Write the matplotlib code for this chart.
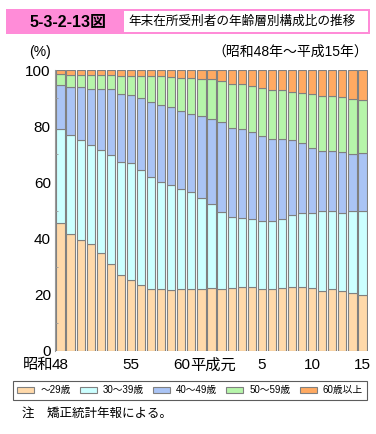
import matplotlib
matplotlib.use('Agg')
import matplotlib.pyplot as plt
import numpy as np
from matplotlib.patches import Rectangle, Patch

plt.rcParams['font.family'] = ['Liberation Sans', 'Noto Sans CJK JP', 'DejaVu Sans']

# 昭和48年～平成15年 (31 years), shares in %
years = list(range(31))
age_labels = ['～29歳', '30～39歳', '40～49歳', '50～59歳', '60歳以上']
under29 = [45.4, 41.8, 39.5, 38.1, 34.8, 31.1, 26.9, 25.4, 23.4, 22.2, 21.9,
           21.7, 22.1, 21.9, 22.1, 22.5, 22.1, 22.3, 22.8, 22.8, 22.2, 22.1,
           22.3, 22.7, 22.7, 22.3, 21.3, 22.1, 21.4, 20.5, 19.8]
age30s = [33.5, 35.2, 35.5, 35.3, 36.6, 38.7, 40.4, 41.4, 40.9, 39.7, 38.2,
          37.2, 35.5, 34.6, 32.4, 29.9, 27.2, 25.3, 24.7, 24.3, 24.2, 24.3,
          24.8, 25.8, 26.5, 26.7, 28.6, 27.9, 27.8, 29.2, 29.9]
age40s = [15.6, 17.1, 18.9, 20.0, 21.8, 23.3, 24.1, 24.4, 25.6, 26.8, 27.6,
          27.9, 27.9, 28.0, 29.0, 30.3, 32.2, 31.9, 31.6, 30.9, 30.2, 29.0,
          28.3, 26.6, 24.9, 23.2, 21.2, 21.3, 21.5, 20.4, 20.8]
age50s = [4.0, 4.1, 4.4, 4.9, 5.1, 5.1, 6.6, 6.8, 7.9, 9.1, 10.1,
          10.7, 11.8, 12.5, 13.3, 14.0, 14.6, 15.6, 15.8, 16.2, 16.9, 17.5,
          17.4, 17.2, 17.6, 19.2, 19.8, 19.3, 19.6, 19.7, 18.7]
over60 = [1.5, 1.8, 1.7, 1.7, 1.7, 1.8, 2.0, 2.0, 2.2, 2.2, 2.2,
          2.5, 2.7, 3.0, 3.2, 3.3, 3.9, 4.9, 5.1, 5.8, 6.5, 7.1,
          7.2, 7.7, 8.3, 8.6, 9.1, 9.4, 9.7, 10.2, 10.8]
tick_pos = [0, 7, 12, 20, 25, 30]
tick_num = ['48', '55', '60', '5', '10', '15']

colors = ['#FFD9AA', '#CCFFFF', '#AAC4F5', '#B6F5AA', '#FFAA62']

fig = plt.figure(figsize=(3.76, 4.34), dpi=100)

# title bar
fig.patches.append(Rectangle((6/376, 1-34/434), 364/376, 25/434, transform=fig.transFigure,
                             facecolor='#FF8CD8', edgecolor='none'))
fig.patches.append(Rectangle((124/376, 1-32/434), 244/376, 21/434, transform=fig.transFigure,
                             facecolor='white', edgecolor='none'))
fig.text(68/376, 1-22/434, '5-3-2-13図', ha='center', va='center', fontsize=11.5,
         fontweight='bold')
fig.text(128/376, 1-22/434, '年末在所受刑者の年齢層別構成比の推移', ha='left', va='center',
         fontsize=9.1)

ax = fig.add_axes([55/376, 83/434, 313/376, 281/434])
series = [under29, age30s, age40s, age50s, over60]
bottom = np.zeros(len(years))
for vals, c, lab in zip(series, colors, age_labels):
    ax.bar(years, vals, width=0.82, bottom=bottom, color=c, edgecolor='#808080',
           linewidth=0.8, label=lab)
    bottom += np.array(vals)

ax.set_xlim(-0.55, 30.55)
ax.set_ylim(0, 100)
ax.set_yticks(range(0, 101, 20))
ax.set_yticks(range(10, 100, 20), minor=True)
ax.tick_params(axis='y', which='major', length=0, labelsize=11, pad=3)
ax.tick_params(axis='y', which='minor', length=2, color='#999999', direction='in')
ax.set_xticks(tick_pos)
ax.set_xticklabels(tick_num, fontsize=11)
ax.tick_params(axis='x', length=0, pad=5)
for s in ['top', 'right', 'bottom']:
    ax.spines[s].set_visible(False)
ax.spines['left'].set_color('#999999')
ax.spines['left'].set_linewidth(0.8)

ax.text(-0.75, -2.6, '昭和', ha='right', va='top', fontsize=11, clip_on=False)
ax.text(12.85, -2.6, '平成元', ha='left', va='top', fontsize=11, clip_on=False)

fig.text(40/376, 1-52/434, '(%)', ha='center', va='center', fontsize=10)
fig.text(368/376, 1-52/434, '（昭和48年～平成15年）', ha='right', va='center', fontsize=10)

leg = fig.legend(loc='center', bbox_to_anchor=(190/376, 1-390.5/434), ncol=5, fontsize=7,
                 frameon=True, fancybox=False, edgecolor='#333333', handlelength=1.75,
                 handleheight=0.6, handletextpad=0.6, columnspacing=0.95,
                 borderpad=0.45, borderaxespad=0)
leg.get_frame().set_linewidth(0.8)

fig.text(22/376, 1-414/434, '注　矯正統計年報による。', ha='left', va='center', fontsize=9)

fig.savefig('out.png', dpi=100)
